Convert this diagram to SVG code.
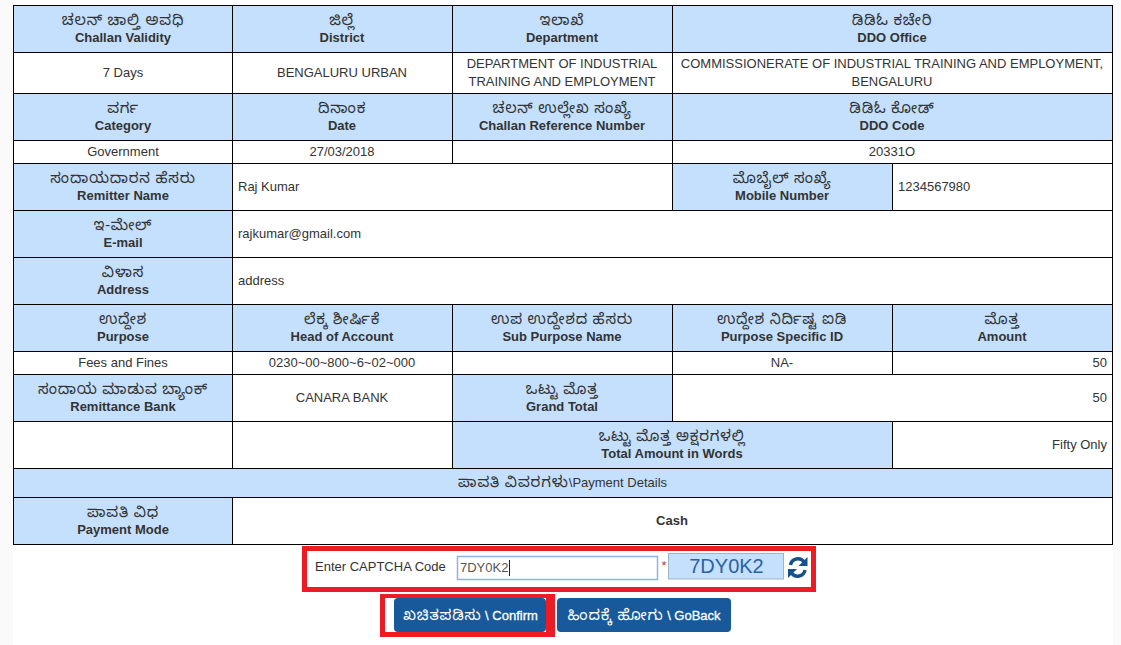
<svg xmlns="http://www.w3.org/2000/svg" width="1121" height="645" viewBox="0 0 1121 645">
<style>
text{font-family:"Liberation Sans","Noto Sans",Arial,sans-serif;font-size:13px;fill:#333;text-anchor:middle}
.k{font-family:"Noto Sans","Noto Sans Kannada","Liberation Sans",sans-serif;font-size:15px;letter-spacing:.8px}
.b{font-weight:bold}
.l{text-anchor:start}
.r{text-anchor:end}
.h{fill:#c4e0fd;stroke:#000;stroke-width:1}
.c{fill:#fff;stroke:#000;stroke-width:1}
.red{fill:none;stroke:#ed1c24;stroke-width:5}
.btn{fill:#17599a}
.t{fill:#fff;stroke:#fff;stroke-width:.3}
.kt{fill:#fff;stroke:none}
</style>
<rect width="1121" height="645" fill="#fff"/>
<rect width="13" height="645" fill="#fafafa"/>
<rect x="1113" width="8" height="645" fill="#fafafa"/>
<g id="row1">
<g id="challan-validity"><rect class="h" x="13.5" y="5.5" width="219" height="47"/><text class="k" x="123" y="25">ಚಲನ್ ಚಾಲ್ತಿ ಅವಧಿ</text><text class="b" x="123" y="42">Challan Validity</text></g>
<g id="district"><rect class="h" x="232.5" y="5.5" width="220" height="47"/><text class="k" x="342" y="25">ಜಿಲ್ಲೆ</text><text class="b" x="342" y="42">District</text></g>
<g id="department"><rect class="h" x="452.5" y="5.5" width="220" height="47"/><text class="k" x="562" y="25">ಇಲಾಖೆ</text><text class="b" x="562" y="42">Department</text></g>
<g id="ddo-office"><rect class="h" x="672.5" y="5.5" width="440" height="47"/><text class="k" x="892" y="25">ಡಿಡಿಓ ಕಚೇರಿ</text><text class="b" x="892" y="42">DDO Office</text></g>
</g>
<g id="row2">
<g id="v-validity"><rect class="c" x="13.5" y="52.5" width="219" height="41"/><text x="123" y="77">7 Days</text></g>
<g id="v-district"><rect class="c" x="232.5" y="52.5" width="220" height="41"/><text x="342" y="77">BENGALURU URBAN</text></g>
<g id="v-department"><rect class="c" x="452.5" y="52.5" width="220" height="41"/><text x="562" y="68">DEPARTMENT OF INDUSTRIAL</text><text x="562" y="86">TRAINING AND EMPLOYMENT</text></g>
<g id="v-ddo-office"><rect class="c" x="672.5" y="52.5" width="440" height="41"/><text x="892" y="68">COMMISSIONERATE OF INDUSTRIAL TRAINING AND EMPLOYMENT,</text><text x="892" y="86">BENGALURU</text></g>
</g>
<g id="row3">
<g id="category"><rect class="h" x="13.5" y="93.5" width="219" height="47"/><text class="k" x="123" y="113">ವರ್ಗ</text><text class="b" x="123" y="130">Category</text></g>
<g id="date"><rect class="h" x="232.5" y="93.5" width="220" height="47"/><text class="k" x="342" y="113">ದಿನಾಂಕ</text><text class="b" x="342" y="130">Date</text></g>
<g id="challan-ref"><rect class="h" x="452.5" y="93.5" width="220" height="47"/><text class="k" x="562" y="113">ಚಲನ್ ಉಲ್ಲೇಖ ಸಂಖ್ಯೆ</text><text class="b" x="562" y="130">Challan Reference Number</text></g>
<g id="ddo-code"><rect class="h" x="672.5" y="93.5" width="440" height="47"/><text class="k" x="892" y="113">ಡಿಡಿಓ ಕೋಡ್</text><text class="b" x="892" y="130">DDO Code</text></g>
</g>
<g id="row4">
<g id="v-category"><rect class="c" x="13.5" y="140.5" width="219" height="23"/><text x="123" y="156">Government</text></g>
<g id="v-date"><rect class="c" x="232.5" y="140.5" width="220" height="23"/><text x="342" y="156">27/03/2018</text></g>
<g id="v-ref"><rect class="c" x="452.5" y="140.5" width="220" height="23"/></g>
<g id="v-code"><rect class="c" x="672.5" y="140.5" width="440" height="23"/><text x="892" y="156">20331O</text></g>
</g>
<g id="row5">
<g id="remitter"><rect class="h" x="13.5" y="163.5" width="219" height="47"/><text class="k" x="123" y="183">ಸಂದಾಯದಾರನ ಹೆಸರು</text><text class="b" x="123" y="200">Remitter Name</text></g>
<g id="v-remitter"><rect class="c" x="232.5" y="163.5" width="440" height="47"/><text class="l" x="238" y="191">Raj Kumar</text></g>
<g id="mobile"><rect class="h" x="672.5" y="163.5" width="220" height="47"/><text class="k" x="782" y="183">ಮೊಬೈಲ್ ಸಂಖ್ಯೆ</text><text class="b" x="782" y="200">Mobile Number</text></g>
<g id="v-mobile"><rect class="c" x="892.5" y="163.5" width="220" height="47"/><text class="l" x="898" y="191">1234567980</text></g>
</g>
<g id="row6">
<g id="email"><rect class="h" x="13.5" y="210.5" width="219" height="47"/><text class="k" x="123" y="230">ಇ-ಮೇಲ್</text><text class="b" x="123" y="247">E-mail</text></g>
<g id="v-email"><rect class="c" x="232.5" y="210.5" width="880" height="47"/><text class="l" x="238" y="238">rajkumar@gmail.com</text></g>
</g>
<g id="row7">
<g id="address"><rect class="h" x="13.5" y="257.5" width="219" height="47"/><text class="k" x="123" y="277">ವಿಳಾಸ</text><text class="b" x="123" y="294">Address</text></g>
<g id="v-address"><rect class="c" x="232.5" y="257.5" width="880" height="47"/><text class="l" x="238" y="285">address</text></g>
</g>
<g id="row8">
<g id="purpose"><rect class="h" x="13.5" y="304.5" width="219" height="47"/><text class="k" x="123" y="324">ಉದ್ದೇಶ</text><text class="b" x="123" y="341">Purpose</text></g>
<g id="head"><rect class="h" x="232.5" y="304.5" width="220" height="47"/><text class="k" x="342" y="324">ಲೆಕ್ಕ ಶೀರ್ಷಿಕೆ</text><text class="b" x="342" y="341">Head of Account</text></g>
<g id="sub-purpose"><rect class="h" x="452.5" y="304.5" width="220" height="47"/><text class="k" x="562" y="324">ಉಪ ಉದ್ದೇಶದ ಹೆಸರು</text><text class="b" x="562" y="341">Sub Purpose Name</text></g>
<g id="purpose-id"><rect class="h" x="672.5" y="304.5" width="220" height="47"/><text class="k" x="782" y="324">ಉದ್ದೇಶ ನಿರ್ದಿಷ್ಟ ಐಡಿ</text><text class="b" x="782" y="341">Purpose Specific ID</text></g>
<g id="amount"><rect class="h" x="892.5" y="304.5" width="220" height="47"/><text class="k" x="1002" y="324">ಮೊತ್ತ</text><text class="b" x="1002" y="341">Amount</text></g>
</g>
<g id="row9">
<g id="v-purpose"><rect class="c" x="13.5" y="351.5" width="219" height="23"/><text x="123" y="367">Fees and Fines</text></g>
<g id="v-head"><rect class="c" x="232.5" y="351.5" width="220" height="23"/><text x="342" y="367">0230~00~800~6~02~000</text></g>
<g id="v-sub"><rect class="c" x="452.5" y="351.5" width="220" height="23"/></g>
<g id="v-id"><rect class="c" x="672.5" y="351.5" width="220" height="23"/><text x="782" y="367">NA-</text></g>
<g id="v-amount"><rect class="c" x="892.5" y="351.5" width="220" height="23"/><text class="r" x="1107" y="367">50</text></g>
</g>
<g id="row10">
<g id="bank"><rect class="h" x="13.5" y="374.5" width="219" height="47"/><text class="k" x="123" y="394">ಸಂದಾಯ ಮಾಡುವ ಬ್ಯಾಂಕ್</text><text class="b" x="123" y="411">Remittance Bank</text></g>
<g id="v-bank"><rect class="c" x="232.5" y="374.5" width="220" height="47"/><text x="342" y="402">CANARA BANK</text></g>
<g id="grand"><rect class="h" x="452.5" y="374.5" width="220" height="47"/><text class="k" x="562" y="394">ಒಟ್ಟು ಮೊತ್ತ</text><text class="b" x="562" y="411">Grand Total</text></g>
<g id="v-grand"><rect class="c" x="672.5" y="374.5" width="440" height="47"/><text class="r" x="1107" y="402">50</text></g>
</g>
<g id="row11">
<g id="blank1"><rect class="c" x="13.5" y="421.5" width="219" height="47"/></g>
<g id="blank2"><rect class="c" x="232.5" y="421.5" width="220" height="47"/></g>
<g id="words"><rect class="h" x="452.5" y="421.5" width="440" height="47"/><text class="k" x="672" y="441">ಒಟ್ಟು ಮೊತ್ತ ಅಕ್ಷರಗಳಲ್ಲಿ</text><text class="b" x="672" y="458">Total Amount in Words</text></g>
<g id="v-words"><rect class="c" x="892.5" y="421.5" width="220" height="47"/><text class="r" x="1107" y="449">Fifty Only</text></g>
</g>
<g id="payment-details"><rect class="h" x="13.5" y="468.5" width="1099" height="29"/><text x="562.500" y="487"><tspan class="k">ಪಾವತಿ ವಿವರಗಳು</tspan>\Payment Details</text></g>
<g id="row13">
<g id="mode"><rect class="h" x="13.5" y="497.5" width="219" height="47"/><text class="k" x="123" y="517">ಪಾವತಿ ವಿಧ</text><text class="b" x="123" y="534">Payment Mode</text></g>
<g id="v-mode"><rect class="c" x="232.5" y="497.5" width="880" height="47"/><text class="b" x="672" y="525">Cash</text></g>
</g>
<g id="captcha">
<rect class="red" x="304.500" y="548.500" width="509" height="41"/>
<text class="l" x="315" y="571">Enter CAPTCHA Code</text>
<rect x="457.500" y="556.500" width="200" height="23" fill="#fff" stroke="#8db4e2" stroke-width="1.500"/>
<text class="l" x="460" y="572" style="fill:#555">7DY0K2</text>
<path d="M509.500 560V576" stroke="#222" stroke-width="1"/>
<text x="664" y="570" style="fill:#b0413e">*</text>
<rect x="668.500" y="553.500" width="115" height="25.500" fill="#c4e0fd" stroke="#9fb4c9"/>
<text x="726.500" y="573" style="font-size:20px;fill:#2b62a6">7DY0K2</text>
<g id="refresh" fill="none" stroke="#16518f" stroke-width="3.400">
<path d="M790.500 565a7.500 7.500 0 0 1 13.500-3"/><path d="M805 570a7.500 7.500 0 0 1-13.500 3"/>
<path d="M807.500 557v9h-9z" fill="#16518f" stroke="none"/><path d="M788 578v-9h9z" fill="#16518f" stroke="none"/>
</g>
</g>
<g id="confirm">
<rect x="380" y="594" width="175" height="43" fill="#ed1c24"/>
<rect x="385" y="598" width="161" height="34" fill="#fff"/>
<rect class="btn" x="394" y="598" width="152" height="34" rx="4"/>
<text x="470.500" y="620" class="t"><tspan class="k kt">ಖಚಿತಪಡಿಸು</tspan> \ Confirm</text>
</g>
<g id="goback">
<rect class="btn" x="557" y="598" width="174" height="34" rx="4"/>
<text x="644" y="620" class="t"><tspan class="k kt">ಹಿಂದಕ್ಕೆ ಹೋಗು</tspan> \ GoBack</text>
</g>
</svg>
